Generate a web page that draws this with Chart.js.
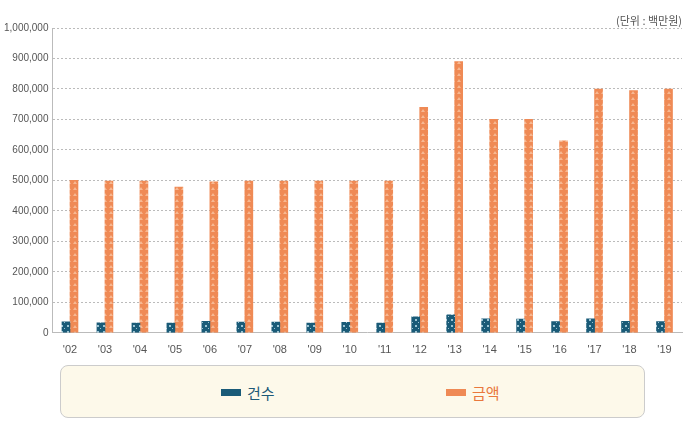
<!DOCTYPE html>
<html><head><meta charset="utf-8">
<script src="https://cdn.jsdelivr.net/npm/chart.js@4"></script>
<style>
body{margin:0;background:#fff;font-family:"Noto Sans CJK KR","Noto Sans",sans-serif;}
#wrap{position:relative;width:696px;height:438px;}
#unit{position:absolute;right:14px;top:12px;font-size:11px;color:#555;}
#cv{position:absolute;left:0;top:0;}
#leg{position:absolute;left:60px;top:365px;width:585px;height:53px;box-sizing:border-box;border:1px solid #ccc;border-radius:8px;background:#fdf9ea;}
.li{position:absolute;top:16px;font-size:15px;display:flex;align-items:center;}
.sw{width:20px;height:7px;margin-right:6px;}
</style></head><body>
<div id="wrap">
<canvas id="cv" width="696" height="360"></canvas>
<div id="unit">(단위 : 백만원)</div>
<div id="leg">
<div class="li" style="left:160px;color:#1d5a78"><span class="sw" id="s1"></span>건수</div>
<div class="li" style="left:385px;color:#e9783d"><span class="sw" id="s2"></span>금액</div>
</div>
</div>
<script>
const categories=["'02","'03","'04","'05","'06","'07","'08","'09","'10","'11","'12","'13","'14","'15","'16","'17","'18","'19"];
const counts=[36000,33000,32000,32000,38000,35000,35000,32000,34000,32000,52000,59000,46000,45000,37000,46000,38000,37000];
const amounts=[500000,498000,498000,478000,495000,498000,498000,498000,498000,498000,740000,890000,700000,700000,630000,800000,795000,800000];
const yTicks=[0,100000,200000,300000,400000,500000,600000,700000,800000,900000,1000000];

function pat(bg,fg,tri){
  const c=document.createElement('canvas');c.width=6;c.height=6;const x=c.getContext('2d');
  x.fillStyle=bg;x.fillRect(0,0,6,6);x.fillStyle=fg;
  if(tri){x.beginPath();x.moveTo(1,4);x.lineTo(3,1);x.lineTo(5,4);x.fill();}
  else{x.fillRect(1,1,2,2);x.fillRect(4,4,1,1);}
  return document.getElementById('cv').getContext('2d').createPattern(c,'repeat');
}
const pBlue=pat('#1a5b78','#9cc4d4',false), pOr=pat('#ef8a55','#f7b892',true);
document.getElementById('s1').style.background='#1a5b78';
document.getElementById('s2').style.background='#ef8a55';
new Chart(document.getElementById('cv'),{type:'bar',
data:{labels:categories,datasets:[
{label:'건수',data:counts,backgroundColor:pBlue,barThickness:8},
{label:'금액',data:amounts,backgroundColor:pOr,barThickness:8}]},
options:{responsive:false,animation:false,layout:{padding:{top:28,right:14,left:0,bottom:0}},
plugins:{legend:{display:false},tooltip:{enabled:false}},
scales:{
x:{grid:{display:false},border:{color:'#bbb'},ticks:{color:'#555',font:{size:11}}},
y:{min:0,max:1000000,afterBuildTicks:a=>{a.ticks=yTicks.map(v=>({value:v}));},
grid:{color:'#bbb',tickLength:0},border:{display:true,color:'#bbb',dash:[2,2]},
ticks:{color:'#555',font:{size:10},padding:4,callback:v=>v.toLocaleString('en-US')}}}},
plugins:[{id:'dash',beforeDatasetsDraw(ch){const y=ch.scales.y,ctx=ch.ctx;}}]
});
</script></body></html>
